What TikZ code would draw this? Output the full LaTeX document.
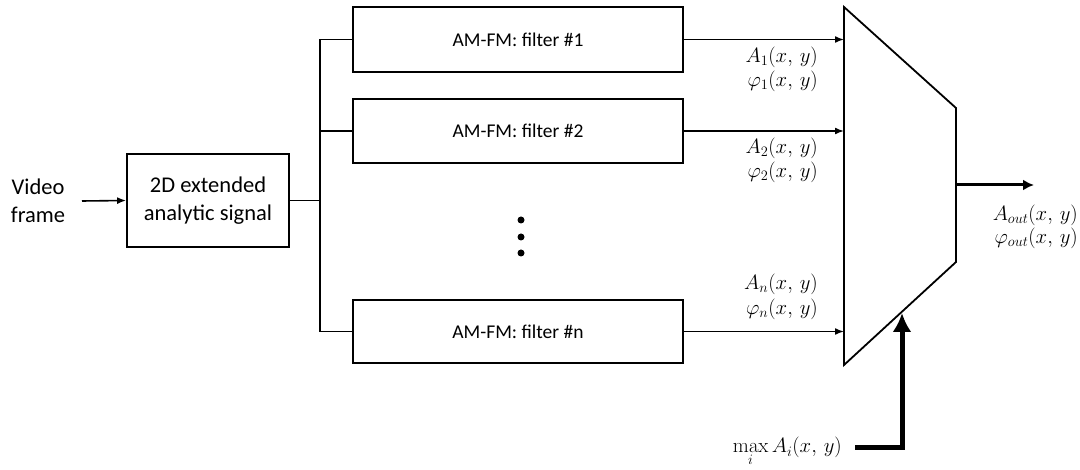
\documentclass[tikz,border=0pt]{standalone}
\usepackage[no-math]{fontspec}
\setmainfont{Carlito}
\usetikzlibrary{arrows.meta}
\tikzset{
  blk/.style={draw, line width=1.8pt, rectangle, inner sep=0pt, font=\fontsize{19.5}{28}\selectfont, align=center},
  bigblk/.style={blk, font=\fontsize{22.5}{28}\selectfont},
  wire/.style={line width=1.6pt},
  thinarrow/.style={line width=1.6pt, -{Latex[length=9pt,width=7pt]}},
  lbl/.style={inner sep=0pt, font=\fontsize{21}{24}\selectfont},
  txt/.style={inner sep=0pt, font=\fontsize{22.5}{28}\selectfont, align=center}
}
\begin{document}
\begin{tikzpicture}[x=1pt,y=-1pt]
\useasboundingbox (0,0) rectangle (1080,470);
% input
\node[txt] (video) at (38,201) {Video\\frame};
\node[bigblk, minimum width=162pt, minimum height=93pt] (asig) at (208,200.5) {2D extended\\analytic signal};
\node[blk, minimum width=330pt, minimum height=65pt] (f1) at (518,39.5) {AM-FM: filter \#1};
\node[blk, minimum width=330pt, minimum height=64pt] (f2) at (518,131) {AM-FM: filter \#2};
\node[blk, minimum width=330pt, minimum height=63pt] (fn) at (518,331.5) {AM-FM: filter \#n};
\coordinate (vin) at (82,201);
\draw[thinarrow] (vin) -- (asig.west);
% bus
\coordinate (bus) at (320,200.5);
\draw[wire] (asig.east) -- (bus);
\draw[wire] (f1.west) -| (bus) |- (fn.west);
\draw[wire] (bus |- f2.west) -- (f2.west);
% dots
\foreach \yy/\nm in {220/d1,237/d2,253/d3}
  \node[circle, fill, inner sep=0pt, minimum size=7pt] (\nm) at (521,\yy) {};
% trapezoid
\coordinate (tA) at (844,7);
\coordinate (tB) at (956,108);
\coordinate (tC) at (956,262);
\coordinate (tD) at (844,365);
\draw[line width=1.8pt, line join=miter] (tA) -- (tB) -- (tC) -- (tD) -- cycle;
% inputs to mux
\draw[thinarrow] (f1.east) -- (f1.east -| tA);
\draw[thinarrow] (f2.east) -- (f2.east -| tA);
\draw[thinarrow] (fn.east) -- (fn.east -| tA);
% labels
\node[lbl, anchor=east] (a1) at (818,57) {$A_1(x,\,y)$};
\node[lbl, anchor=east] (p1) at (818,81) {$\varphi_1(x,\,y)$};
\node[lbl, anchor=east] (a2) at (818,148) {$A_2(x,\,y)$};
\node[lbl, anchor=east] (p2) at (818,172) {$\varphi_2(x,\,y)$};
\node[lbl, anchor=east] (an) at (818,284) {$A_n(x,\,y)$};
\node[lbl, anchor=east] (pn) at (818,309) {$\varphi_n(x,\,y)$};
% output
\coordinate (outs) at (956,185);
\coordinate (oute) at (1034,185);
\draw[line width=3pt, -{Latex[length=11pt,width=11pt]}] (outs) -- (oute);
\node[lbl, anchor=east, font=\fontsize{22}{24}\selectfont] (aout) at (1078,215) {$A_{out}(x,\,y)$};
\node[lbl, anchor=east, font=\fontsize{22}{24}\selectfont] (pout) at (1078,238) {$\varphi_{out}(x,\,y)$};
% max control
\node[lbl, anchor=base east, font=\fontsize{22}{24}\selectfont] (mx) at (842,453) {$\max\limits_i A_i(x,\,y)$};
\coordinate (ms) at (855,448);
\coordinate (mc) at (902,448);
\coordinate (mt) at (902,313);
\draw[line width=5pt, line join=miter, -{Latex[length=19pt,width=19pt]}] (ms) -- (mc) -- (mt);
\end{tikzpicture}
\end{document}
